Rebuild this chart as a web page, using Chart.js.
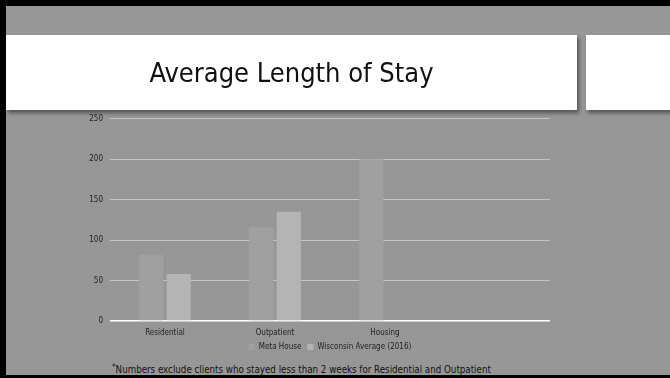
<!DOCTYPE html>
<html>
<head>
<meta charset="utf-8">
<script src="https://cdn.jsdelivr.net/npm/chart.js@4.4.0/dist/chart.umd.min.js"></script>
<style>
  html, body { margin: 0; padding: 0; }
  body {
    width: 670px; height: 378px; overflow: hidden; position: relative;
    box-sizing: border-box;
    border-top: 6px solid #000; border-left: 6px solid #000; border-bottom: 3px solid #000;
    background-color: #979797;
    background-image: repeating-conic-gradient(#9b9b9b 0 25%, #929292 0 50%);
    background-size: 2px 2px;
    font-family: "DejaVu Sans Condensed", "DejaVu Sans", sans-serif;
  }
  .title {
    position: absolute; left: 0; top: 29px; width: 571px; height: 75px;
    background: #fff; box-shadow: 2px 3px 4px rgba(0,0,0,0.45);
    display: flex; align-items: center; justify-content: center;
    font-size: 27px; color: #111; z-index: 2;
  }
  .side {
    position: absolute; left: 580px; top: 29px; width: 90px; height: 75px;
    background: #fff; box-shadow: 2px 3px 4px rgba(0,0,0,0.45); z-index: 2;
  }
  #wrap { position: absolute; left: -6px; top: 101px; width: 670px; height: 254px; }
  .note {
    position: absolute; left: 106px; top: 358px; font-size: 9.7px; color: #111;
    white-space: nowrap;
  }
  .note sup { font-size: 8px; vertical-align: 3px; line-height: 0; }
</style>
</head>
<body>
<div class="title">Average Length of Stay</div>
<div class="side"></div>
<div id="wrap"><canvas id="chart"></canvas></div>
<div class="note"><sup>*</sup>Numbers exclude clients who stayed less than 2 weeks for Residential and Outpatient</div>
<script>
const categories = ["Residential", "Outpatient", "Housing", ""];
const metaHouse = [82, 116, 200, null];
const wisconsinAvg = [58, 135, null, null];
const yTicks = [0, 50, 100, 150, 200, 250];

const ctx = document.getElementById("chart").getContext("2d");
const tickFont = { size: 8, family: "DejaVu Sans Condensed" };

new Chart(ctx, {
  type: "bar",
  data: {
    labels: categories,
    datasets: [
      {
        label: "Meta House",
        data: metaHouse,
        backgroundColor: "#a0a0a0",
        borderWidth: 0,
        categoryPercentage: 0.5,
        barPercentage: 0.88,
      },
      {
        label: "Wisconsin Average (2016)",
        data: wisconsinAvg,
        backgroundColor: "#b4b4b4",
        borderWidth: 0,
        categoryPercentage: 0.5,
        barPercentage: 0.88,
      },
    ],
  },
  options: {
    responsive: true,
    maintainAspectRatio: false,
    animation: false,
    layout: { padding: { top: 5, right: 120, left: 0, bottom: 0 } },
    plugins: {
      tooltip: { enabled: false },
      legend: {
        display: true,
        position: "bottom",
        fullSize: false,
        labels: {
          boxWidth: 6,
          boxHeight: 6,
          padding: 6,
          color: "#222",
          font: tickFont,
        },
      },
    },
    scales: {
      y: {
        min: 0,
        max: 250,
        afterFit: (s) => { s.width = 110; },
        afterBuildTicks: (s) => { s.ticks = yTicks.map((v) => ({ value: v })); },
        border: { display: false },
        grid: {
          color: (c) => (c.tick && c.tick.value === 0 ? "#ffffff" : "#c6c6c6"),
          lineWidth: (c) => (c.tick && c.tick.value === 0 ? 1.5 : 1),
          drawTicks: false,
        },
        ticks: { padding: 7, color: "#222", font: tickFont },
      },
      x: {
        afterFit: (s) => { s.height = 16; },
        border: { display: false },
        grid: { display: false, drawTicks: false },
        ticks: { padding: 7, color: "#222", font: tickFont },
      },
    },
  },
});
</script>
</body>
</html>
